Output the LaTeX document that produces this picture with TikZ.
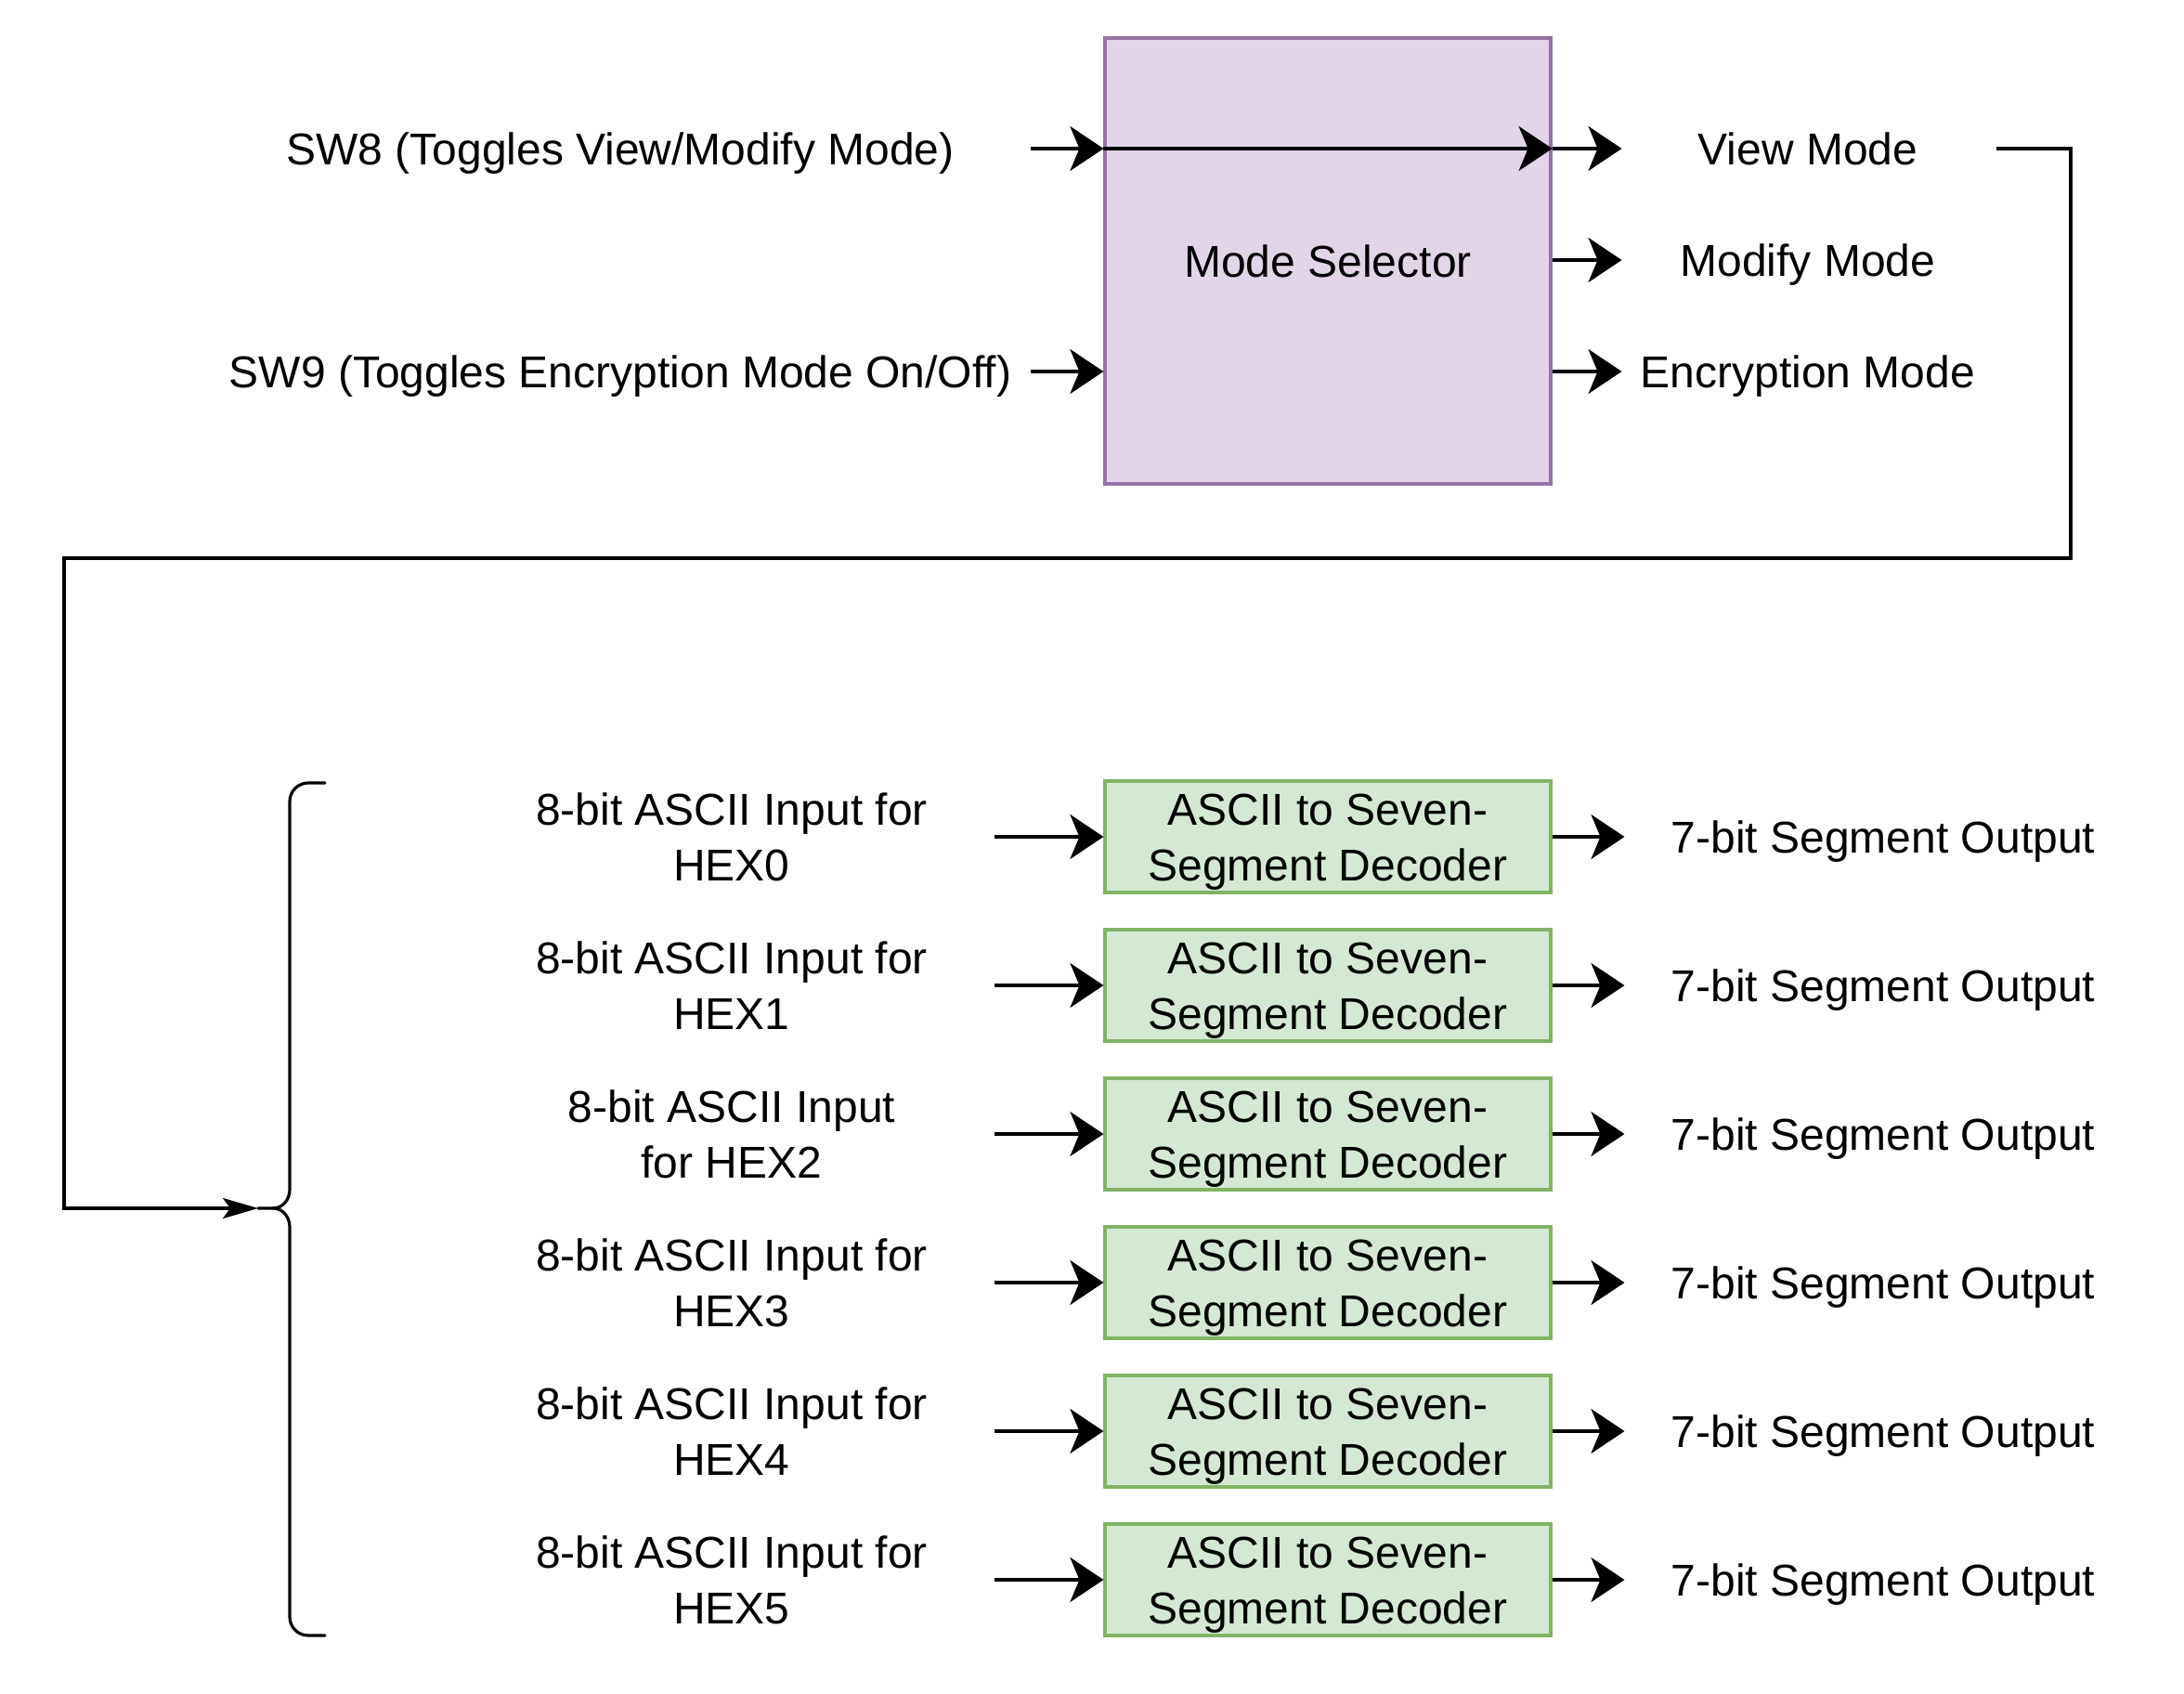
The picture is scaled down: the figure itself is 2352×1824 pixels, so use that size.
\documentclass[tikz,border=0pt]{standalone}
\usepackage{fontspec}
\setmainfont{Liberation Sans}
\usetikzlibrary{arrows.meta}
\definecolor{msfill}{HTML}{E1D5E7}
\definecolor{msdraw}{HTML}{9673A6}
\definecolor{decfill}{HTML}{D5E8D4}
\definecolor{decdraw}{HTML}{82B366}
\begin{document}
\begin{tikzpicture}[x=0.5pt,y=-0.5pt,
  every node/.style={font=\fontsize{24}{30}\selectfont, inner sep=0pt, align=center},
  lbl/.style={text height=17.5pt, text depth=0pt},
  conn/.style={line width=1.6pt, -{Stealth[length=18pt,width=24pt,inset=5pt]}},
  thinconn/.style={line width=1.6pt, -{Stealth[length=19pt,width=11pt,inset=4pt]}},
  msbox/.style={draw=msdraw, fill=msfill, line width=1.6pt, minimum width=240pt, minimum height=240pt},
  decbox/.style={draw=decdraw, fill=decfill, line width=1.6pt, minimum width=240pt, minimum height=60pt},
  bracestyle/.style={line width=1.6pt, line cap=round}]
\useasboundingbox (0,0) rectangle (2352,1824);

% Mode selector
\node[msbox] (ms) at (1430,281) {Mode Selector};
\node[lbl] (sw8) at (668,160) {SW8 (Toggles View/Modify Mode)};
\node[lbl] (sw9) at (668,400) {SW9 (Toggles Encryption Mode On/Off)};
\coordinate (sw8a) at (1110,160);
\coordinate (sw9a) at (1110,400);
\draw[conn] (sw8a) -- (ms.west |- sw8a);
\draw[conn] (sw9a) -- (ms.west |- sw9a);
\draw[conn] (ms.west |- sw8a) -- (ms.east |- sw8a);

\node[lbl] (view) at (1947,160) {View Mode};
\node[lbl] (modify) at (1947,280) {Modify Mode};
\node[lbl] (enc) at (1947,400) {Encryption Mode};
\draw[conn] (ms.east |- view) -- ([xshift=-10pt]enc.west |- view);
\draw[conn] (ms.east |- modify) -- ([xshift=-10pt]enc.west |- modify);
\draw[conn] (ms.east |- enc) -- ([xshift=-10pt]enc.west);

% Brace
\coordinate (btop) at (350,843);
\coordinate (bbot) at (350,1761);
\coordinate (btip) at (278,1301);
\draw[bracestyle] (btop) -- (332,843) to[out=180,in=90] (312,863) -- (312,1281)
  to[out=-90,in=0] (294,1301) -- (btip);
\draw[bracestyle] (bbot) -- (332,1761) to[out=180,in=-90] (312,1741) -- (312,1321)
  to[out=90,in=0] (294,1301);

% Feedback connector
\coordinate (fbs) at (2150,160);
\coordinate (fbr) at (2230,601);
\coordinate (fbl) at (69,1301);
\draw[thinconn] (fbs) -| (fbr) -| (fbl) -- (btip);

% Decoders
\foreach \i/\y/\t in {0/901/{8-bit ASCII Input for\\HEX0},
                      1/1061/{8-bit ASCII Input for\\HEX1},
                      2/1221/{8-bit ASCII Input\\for HEX2},
                      3/1381/{8-bit ASCII Input for\\HEX3},
                      4/1541/{8-bit ASCII Input for\\HEX4},
                      5/1701/{8-bit ASCII Input for\\HEX5}} {
  \node[decbox, label={[yshift=-3pt]center:ASCII to Seven-\\Segment Decoder}] (dec\i) at (1430,\y) {};
  \node (in\i) at (788,\y) {\t};
  \node[lbl] (out\i) at (2028,\y) {7-bit Segment Output};
  \coordinate (ina\i) at (1071,\y);
  \draw[conn] (ina\i) -- (dec\i.west);
  \draw[conn] (dec\i.east) -- ([xshift=-25pt]out\i.west);
}
\end{tikzpicture}
\end{document}
